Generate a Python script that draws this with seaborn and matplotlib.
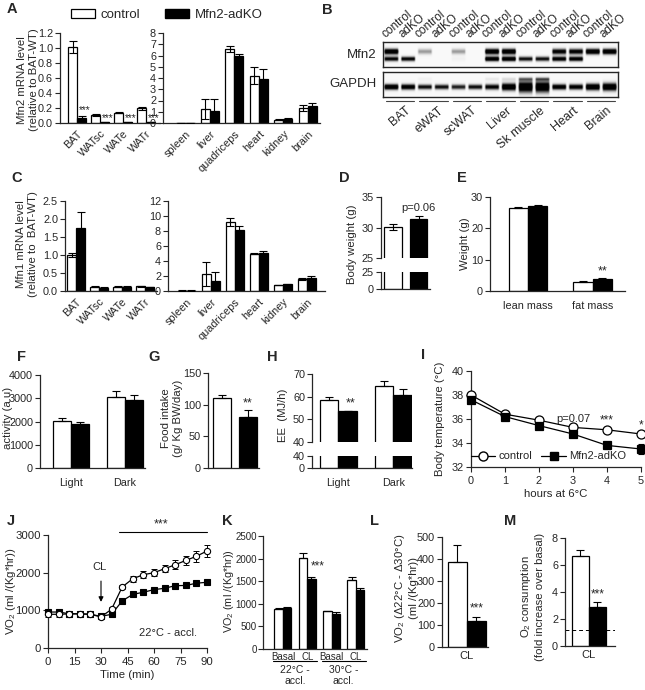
import numpy as np
import pandas as pd
import matplotlib
matplotlib.use("Agg")
import matplotlib.pyplot as plt
import matplotlib.transforms as mtrans
from matplotlib.patches import Patch
from matplotlib.lines import Line2D
from matplotlib.ticker import FormatStrFormatter
import seaborn as sns

# ---------------- data ----------------
groups = ["control", "Mfn2-adKO"]

fat_depots = ["BAT", "WATsc", "WATe", "WATr"]
tissues = ["spleen", "liver", "quadriceps", "heart", "kidney", "brain"]

# A: Mfn2 mRNA
a_fat_ctrl = [1.02, 0.11, 0.14, 0.20]
a_fat_ko = [0.07, 0.01, 0.01, 0.01]
a_fat_ctrl_err = [0.08, 0.01, 0.01, 0.02]
a_fat_ko_err = [0.02, 0.003, 0.003, 0.003]
a_tis_ctrl = [0.02, 1.25, 6.6, 4.2, 0.3, 1.35]
a_tis_ko = [0.02, 1.1, 6.0, 3.9, 0.4, 1.5]
a_tis_ctrl_err = [0.01, 0.9, 0.25, 0.75, 0.05, 0.25]
a_tis_ko_err = [0.01, 1.0, 0.15, 0.9, 0.05, 0.25]

# B: western blot (band intensity per lane)
blot_lanes = ["control", "adKO"] * 7
blot_groups = ["BAT", "eWAT", "scWAT", "Liver", "Sk muscle", "Heart", "Brain"]
mfn2_upper = [1.0, 0.0, 0.35, 0.0, 0.35, 0.0, 1.0, 1.0, 0.0, 0.0, 0.85, 0.85, 1.0, 1.0]
mfn2_lower = [0.8, 0.8, 0.0, 0.0, 0.05, 0.0, 1.0, 1.0, 0.75, 0.75, 0.9, 0.9, 0.0, 0.0]
gapdh_main = [1.0, 0.9, 0.75, 0.75, 0.7, 0.75, 0.8, 1.0, 1.0, 1.0, 0.9, 0.85, 1.0, 1.0]
gapdh_thick = [1.0, 1.0, 0.9, 0.9, 0.9, 0.9, 1.0, 1.3, 2.0, 2.0, 1.0, 1.0, 1.2, 1.4]
gapdh_faint = [0.0, 0.0, 0.05, 0.0, 0.0, 0.0, 0.1, 0.15, 0.4, 0.45, 0.0, 0.0, 0.0, 0.0]

# C: Mfn1 mRNA
c_fat_ctrl = [1.0, 0.12, 0.12, 0.13]
c_fat_ko = [1.75, 0.09, 0.12, 0.11]
c_fat_ctrl_err = [0.06, 0.02, 0.01, 0.01]
c_fat_ko_err = [0.45, 0.01, 0.01, 0.01]
c_tis_ctrl = [0.05, 2.3, 9.2, 5.0, 0.8, 1.65]
c_tis_ko = [0.05, 1.3, 8.2, 5.1, 0.9, 1.8]
c_tis_ctrl_err = [0.02, 1.6, 0.5, 0.1, 0.05, 0.15]
c_tis_ko_err = [0.02, 1.2, 0.5, 0.25, 0.05, 0.2]

# D: body weight
d_weight = [30.1, 31.4]
d_weight_err = [0.45, 0.5]

# E: body composition
e_cats = ["lean mass", "fat mass"]
e_ctrl = [26.5, 3.0]
e_ko = [27.0, 3.7]
e_ctrl_err = [0.4, 0.1]
e_ko_err = [0.5, 0.3]

# F: activity
phases = ["Light", "Dark"]
f_ctrl = [2010, 3070]
f_ko = [1880, 2930]
f_ctrl_err = [140, 230]
f_ko_err = [100, 190]

# G: food intake
g_food = [110, 80]
g_food_err = [6, 12]

# H: energy expenditure
h_ctrl = [58.7, 64.5]
h_ko = [53.6, 60.9]
h_ctrl_err = [1.3, 2.4]
h_ko_err = [0.2, 2.5]

# I: body temperature during cold exposure
i_hours = [0, 1, 2, 3, 4, 5]
i_ctrl = [38.0, 36.4, 35.9, 35.3, 35.1, 34.75]
i_ko = [37.6, 36.2, 35.45, 34.75, 33.8, 33.5]
i_ctrl_err = [0.1, 0.1, 0.1, 0.1, 0.1, 0.15]
i_ko_err = [0.15, 0.1, 0.1, 0.15, 0.3, 0.45]

# J: VO2 time course
j_time = [0, 6, 12, 18, 24, 30, 36, 42, 48, 54, 60, 66, 72, 78, 84, 90]
j_ctrl = [895, 895, 905, 905, 895, 825, 1030, 1620, 1840, 1945, 2000, 2105, 2210, 2325, 2435, 2575]
j_ko = [955, 955, 910, 910, 895, 840, 895, 1250, 1425, 1480, 1550, 1585, 1655, 1660, 1720, 1745]
j_ctrl_err = [60, 60, 40, 40, 40, 40, 60, 60, 80, 90, 100, 100, 120, 130, 140, 150]
j_ko_err = [40, 40, 30, 30, 30, 30, 30, 40, 40, 30, 30, 30, 30, 30, 30, 40]

# K: VO2 basal / CL at two acclimation temperatures
k_cats = ["Basal", "CL", "Basal ", "CL "]
k_ctrl = [895, 2020, 830, 1520]
k_ko = [915, 1545, 775, 1300]
k_ctrl_err = [20, 100, 20, 80]
k_ko_err = [20, 50, 40, 60]

# L, M: CL response
l_ctrl, l_ko = [385], [118]
l_ctrl_err, l_ko_err = [80], [20]
m_ctrl, m_ko = [6.65], [2.9]
m_ctrl_err, m_ko_err = [0.45], [0.37]
m_basal_line = 1.2

# ---------------- style ----------------
sns.set_style("ticks")
plt.rcParams["font.family"] = ["Liberation Sans", "DejaVu Sans"]
plt.rcParams["mathtext.fontset"] = "custom"
plt.rcParams["mathtext.rm"] = "Liberation Sans"
plt.rcParams["mathtext.it"] = "Liberation Sans:italic"
plt.rcParams["axes.linewidth"] = 0.9

pal = {"control": "white", "Mfn2-adKO": "black"}
TICK = 7.8
LAB = 8.2

W, H = 645, 690
fig = plt.figure(figsize=(W / 100, H / 100), dpi=100)


def add_ax(x0, y0, x1, y1):
    return fig.add_axes([x0 / W, 1 - y1 / H, (x1 - x0) / W, (y1 - y0) / H])


def ftext(x, y, s, **kw):
    fig.text(x / W, 1 - y / H, s, **kw)


def letter(x, y, s):
    ftext(x, y, s, fontsize=10.5, fontweight="bold", ha="left", va="top")


def ylab(x, y, s, fs=LAB):
    ftext(x, y, s, rotation=90, ha="center", va="center", fontsize=fs, linespacing=1.15)


def style(ax, xlim, ylim, yticks, xlabels=None, fmt=None):
    ax.set_xlim(*xlim)
    ax.set_ylim(*ylim)
    ax.set_yticks(yticks)
    if fmt:
        ax.yaxis.set_major_formatter(FormatStrFormatter(fmt))
    ax.set_xlabel("")
    ax.set_ylabel("")
    sns.despine(ax=ax)
    ax.tick_params(axis="y", length=3.5, width=0.8, pad=1.5, labelsize=TICK)
    ax.tick_params(axis="x", length=0, pad=4, labelsize=TICK)
    if xlabels is None:
        ax.set_xticklabels([])


def errs(ax, x, vals, err, both):
    lower = err if both else [0] * len(err)
    ax.errorbar(x, vals, yerr=[lower, err], fmt="none", ecolor="black",
                elinewidth=0.8, capsize=3, capthick=0.8, zorder=3)


def pair_bars(ax, cats, ctrl, ko, ctrl_err, ko_err, width, both=False):
    df = pd.DataFrame({"cat": list(cats) * 2,
                       "group": [groups[0]] * len(cats) + [groups[1]] * len(cats),
                       "value": list(ctrl) + list(ko)})
    sns.barplot(data=df, x="cat", y="value", hue="group", hue_order=groups,
                palette=pal, width=width, edgecolor="black", linewidth=0.9,
                errorbar=None, legend=False, ax=ax)
    pos = np.arange(len(cats))
    errs(ax, pos - width / 4, ctrl, ctrl_err, both)
    errs(ax, pos + width / 4, ko, ko_err, both)


def single_bars(ax, vals, err, width, both=False):
    df = pd.DataFrame({"group": groups, "value": vals})
    sns.barplot(data=df, x="group", y="value", hue="group", hue_order=groups,
                palette=pal, width=width, edgecolor="black", linewidth=0.9,
                errorbar=None, legend=False, ax=ax)
    errs(ax, np.arange(2), vals, err, both)


def stars(ax, x, y, s="***", fs=8.5):
    ax.text(x, y, s, ha="center", va="bottom", fontsize=fs)


# ---------------- A ----------------
letter(7, 2, "A")
ax = add_ax(60, 33, 160, 123)
pair_bars(ax, fat_depots, a_fat_ctrl, a_fat_ko, a_fat_ctrl_err, a_fat_ko_err, 0.78, both=True)
style(ax, (-0.74, 3.6), (0, 1.2), np.arange(0, 1.21, 0.2), xlabels=True, fmt="%.1f")
ax.set_xticklabels(fat_depots, rotation=45, ha="right", rotation_mode="anchor")
for i, y in enumerate([0.1, 0.0, 0.0, 0.0]):
    stars(ax, i + 0.33, y, fs=7.2)
ax = add_ax(163, 33, 320, 123)
pair_bars(ax, tissues, a_tis_ctrl, a_tis_ko, a_tis_ctrl_err, a_tis_ko_err, 0.74, both=True)
style(ax, (-0.92, 5.5), (0, 8), range(0, 9), xlabels=True)
ax.set_xticklabels(tissues, rotation=45, ha="right", rotation_mode="anchor")
ylab(28, 80, "Mfn2 mRNA level\n(relative to BAT-WT)")
fig.legend(handles=[Patch(facecolor="white", edgecolor="black", linewidth=0.9, label="control"),
                    Patch(facecolor="black", edgecolor="black", label="Mfn2-adKO")],
           loc="center left", bbox_to_anchor=(71 / W, 1 - 15 / H), ncol=2, frameon=False,
           fontsize=9.5, handlelength=1.8, handleheight=0.65, handletextpad=0.45,
           columnspacing=1.9, borderpad=0, borderaxespad=0)

# ---------------- B ----------------
letter(322, 3, "B")


def blot_image(bands, cols=24, rows=50):
    n = len(bands[0][0])
    img = np.full((rows, n * cols), 0.04)
    yy = np.linspace(0, 1, rows)[:, None]
    xx = np.linspace(0, 1, cols)[None, :]
    hprof = np.clip((0.48 - np.abs(xx - 0.5)) / 0.1, 0, 1)
    for amps, ypos, sig in bands:
        for i, a in enumerate(amps):
            s = sig[i] if hasattr(sig, "__len__") else sig
            img[:, i * cols:(i + 1) * cols] += a * np.exp(-((yy - ypos) / s) ** 2) * hprof
    return np.clip(img, 0, 1)


bx_m = add_ax(383, 42, 618, 67)
bx_m.imshow(blot_image([(mfn2_upper, 0.38, 0.12), (mfn2_lower, 0.68, 0.1)]),
            cmap="Greys", vmin=0, vmax=0.8, aspect="auto", extent=(0, 14, 1, 0),
            interpolation="bilinear")
bx_g = add_ax(383, 72, 618, 97)
bx_g.imshow(blot_image([(gapdh_main, 0.6, [0.12 * t for t in gapdh_thick]),
                        (gapdh_faint, 0.28, 0.07)]),
            cmap="Greys", vmin=0, vmax=0.8, aspect="auto", extent=(0, 14, 1, 0),
            interpolation="bilinear")
for bx in (bx_m, bx_g):
    bx.set_xticks([])
    bx.set_yticks([])
    for sp in bx.spines.values():
        sp.set_linewidth(1.0)
ftext(377, 55, "Mfn2", ha="right", va="center", fontsize=9.5)
ftext(377, 84, "GAPDH", ha="right", va="center", fontsize=9.5)
trm = mtrans.blended_transform_factory(bx_m.transData, bx_m.transAxes)
for i, lab in enumerate(blot_lanes):
    bx_m.text(i + 0.25, 1.08, lab, transform=trm, rotation=40, ha="left", va="bottom",
              rotation_mode="anchor", fontsize=8.5)
trg = mtrans.blended_transform_factory(bx_g.transData, bx_g.transAxes)
for g, lab in enumerate(blot_groups):
    bx_g.plot([2 * g + 0.15, 2 * g + 1.85], [-0.14, -0.14], color="#444444", lw=0.8,
              transform=trg, clip_on=False)
    bx_g.text(2 * g + 1.3, -0.3, lab, transform=trg, rotation=40, ha="right", va="top",
              rotation_mode="anchor", fontsize=9)

# ---------------- C ----------------
letter(11, 171, "C")
ax = add_ax(65, 201, 157, 291)
pair_bars(ax, fat_depots, c_fat_ctrl, c_fat_ko, c_fat_ctrl_err, c_fat_ko_err, 0.78, both=True)
style(ax, (-0.48, 3.52), (0, 2.5), np.arange(0, 2.51, 0.5), xlabels=True, fmt="%.1f")
ax.set_xticklabels(fat_depots, rotation=45, ha="right", rotation_mode="anchor")
ax = add_ax(168, 201, 325, 291)
pair_bars(ax, tissues, c_tis_ctrl, c_tis_ko, c_tis_ctrl_err, c_tis_ko_err, 0.74, both=True)
style(ax, (-0.78, 5.76), (0, 12), range(0, 13, 2), xlabels=True)
ax.set_xticklabels(tissues, rotation=45, ha="right", rotation_mode="anchor")
ylab(27, 244, "Mfn1 mRNA level\n(relative to  BAT-WT)")

# ---------------- D ----------------
letter(339, 171, "D")
ax = add_ax(381, 197, 430, 258)
single_bars(ax, d_weight, d_weight_err, 0.7, both=True)
style(ax, (-0.47, 1.45), (25, 35), [25, 30, 35])
ax.spines["bottom"].set_visible(False)
ax.text(1, 32.3, "p=0.06", ha="center", va="bottom", fontsize=8)
ax = add_ax(381, 272, 430, 289)
single_bars(ax, d_weight, d_weight_err, 0.7)
style(ax, (-0.47, 1.45), (0, 25), [0, 25])
ylab(352, 244, "Body weight (g)")

# ---------------- E ----------------
letter(457, 171, "E")
ax = add_ax(490, 197, 625, 291)
pair_bars(ax, e_cats, e_ctrl, e_ko, e_ctrl_err, e_ko_err, 0.6)
style(ax, (-0.59, 1.5), (0, 30), [0, 10, 20, 30], xlabels=True)
ax.tick_params(axis="x", pad=7)
stars(ax, 1.15, 4.4, "**", fs=9)
ylab(465, 244, "Weight (g)")

# ---------------- F ----------------
letter(17, 350, "F")
ax = add_ax(40, 375, 145, 468)
pair_bars(ax, phases, f_ctrl, f_ko, f_ctrl_err, f_ko_err, 0.67)
style(ax, (-0.57, 1.37), (0, 4000), range(0, 4001, 1000), xlabels=True)
ax.tick_params(axis="x", pad=7)
ylab(8, 418, "activity (a.u)")

# ---------------- G ----------------
letter(148, 350, "G")
ax = add_ax(208, 373, 259, 468)
single_bars(ax, g_food, g_food_err, 0.69)
style(ax, (-0.54, 1.42), (0, 150), [0, 50, 100, 150])
stars(ax, 1, 93, "**", fs=9)
ylab(172, 418, "Food intake\n(g/ Kg BW/day)")

# ---------------- H ----------------
letter(267, 350, "H")
ax = add_ax(312, 374, 412, 442)
pair_bars(ax, phases, h_ctrl, h_ko, h_ctrl_err, h_ko_err, 0.67)
style(ax, (-0.48, 1.34), (40, 70), [40, 50, 60, 70])
ax.spines["bottom"].set_visible(False)
stars(ax, 0.22, 54.5, "**", fs=9)
ax = add_ax(312, 456, 412, 468)
pair_bars(ax, phases, h_ctrl, h_ko, h_ctrl_err, h_ko_err, 0.67)
style(ax, (-0.48, 1.34), (0, 40), [0, 40], xlabels=True)
ax.tick_params(axis="x", pad=7)
ylab(283, 415, "EE  (MJ/h)")

# ---------------- I ----------------
letter(421, 348, "I")
ax = add_ax(471, 371, 641, 467)
for vals, err, mk, mfc in ((i_ctrl, i_ctrl_err, "o", "white"), (i_ko, i_ko_err, "s", "black")):
    ax.errorbar(i_hours, vals, yerr=err, fmt="none", ecolor="black", elinewidth=0.8,
                capsize=2.5, capthick=0.8, zorder=2, clip_on=False)
    sns.lineplot(x=i_hours, y=vals, color="black", linewidth=0.9, marker=mk,
                 markersize=6.5 if mk == "o" else 6, markerfacecolor=mfc,
                 markeredgecolor="black", markeredgewidth=0.9, ax=ax, zorder=4, clip_on=False)
ax.set_xlim(0, 5)
ax.set_ylim(32, 40)
ax.set_yticks(range(32, 41, 2))
ax.set_xticks(range(0, 6))
sns.despine(ax=ax)
ax.tick_params(length=3.5, width=0.8, pad=1.5, labelsize=TICK)
ax.tick_params(axis="x", pad=3)
ax.set_xlabel("hours at 6°C", fontsize=LAB, labelpad=2)
ax.text(3.0, 35.6, "p=0.07", ha="center", va="bottom", fontsize=8)
stars(ax, 4, 35.35)
stars(ax, 5, 35.0, "*")
ax.legend(handles=[Line2D([], [], color="black", lw=0.9, marker="o", ms=6.5, mfc="white", label="control"),
                   Line2D([], [], color="black", lw=0.9, marker="s", ms=6, mfc="black", label="Mfn2-adKO")],
          loc="center left", bbox_to_anchor=(0.0, 0.11), ncol=2, frameon=False, fontsize=8,
          handlelength=2.2, handletextpad=0.3, columnspacing=0.8, borderpad=0, borderaxespad=0)
ylab(440, 419, "Body temperature (°C)")

# ---------------- J ----------------
letter(7, 514, "J")
ax = add_ax(48, 535, 207, 648)
for vals, err, mk, mfc in ((j_ko, j_ko_err, "s", "black"), (j_ctrl, j_ctrl_err, "o", "white")):
    ax.errorbar(j_time, vals, yerr=err, fmt="none", ecolor="black", elinewidth=0.7,
                capsize=2, capthick=0.7, zorder=2, clip_on=False)
    sns.lineplot(x=j_time, y=vals, color="black", linewidth=0.9, marker=mk,
                 markersize=4.5, markerfacecolor=mfc, markeredgecolor="black",
                 markeredgewidth=0.8, ax=ax, zorder=4, clip_on=False)
ax.set_xlim(0, 90)
ax.set_ylim(0, 3000)
ax.set_xticks(range(0, 91, 15))
ax.set_yticks(range(0, 3001, 1000))
sns.despine(ax=ax)
ax.tick_params(length=3.5, width=0.8, pad=1.5, labelsize=TICK + 0.4)
ax.tick_params(axis="x", pad=3)
ax.set_xlabel("Time (min)", fontsize=LAB, labelpad=2)
ax.plot([40, 90], [3080, 3080], color="black", lw=0.8, clip_on=False)
stars(ax, 64, 3110, fs=9)
ax.annotate("", xy=(30, 1150), xytext=(30, 1850),
            arrowprops=dict(arrowstyle="-|>", color="black", lw=0.8, mutation_scale=7))
ax.text(29, 2150, "CL", ha="center", va="center", fontsize=8)
ax.text(68, 400, "22°C - accl.", ha="center", va="center", fontsize=8)
ylab(11, 591, "VO$_2$ (ml /(Kg*hr))")

# ---------------- K ----------------
letter(222, 514, "K")
ax = add_ax(263, 536, 367, 649)
pair_bars(ax, k_cats, k_ctrl, k_ko, k_ctrl_err, k_ko_err, 0.7)
style(ax, (-0.82, 3.46), (0, 2500), range(0, 2501, 500), xlabels=True)
ax.tick_params(axis="y", labelsize=7, pad=1)
ax.set_xticks(range(4))
ax.set_xticklabels(["Basal", "CL", "Basal", "CL"], fontsize=7)
ax.tick_params(axis="x", pad=2)
stars(ax, 1.45, 1700)
trk = mtrans.blended_transform_factory(ax.transData, ax.transAxes)
for g, lab in enumerate(["22°C -\naccl.", "30°C -\naccl."]):
    ax.plot([2 * g - 0.4, 2 * g + 1.4], [-0.11, -0.11], color="black", lw=0.8,
            transform=trk, clip_on=False)
    ax.text(2 * g + 0.5, -0.14, lab, transform=trk, ha="center", va="top", fontsize=7.5,
            linespacing=1.2)
ylab(229, 591, "VO$_2$ (ml /(Kg*hr))", fs=7.8)

# ---------------- L ----------------
letter(370, 514, "L")
ax = add_ax(442, 537, 488, 647)
pair_bars(ax, ["CL"], l_ctrl, l_ko, l_ctrl_err, l_ko_err, 0.8)
style(ax, (-0.52, 0.45), (0, 500), range(0, 501, 100), xlabels=True)
ax.tick_params(axis="x", labelsize=8, pad=3)
stars(ax, 0.22, 150)
ylab(406, 588, "VO$_2$ (Δ22°C - Δ30°C)\n(ml /(Kg*hr))")

# ---------------- M ----------------
letter(504, 514, "M")
ax = add_ax(565, 538, 615, 646)
pair_bars(ax, ["CL"], m_ctrl, m_ko, m_ctrl_err, m_ko_err, 0.8)
style(ax, (-0.56, 0.62), (0, 8), range(0, 9, 2), xlabels=True)
ax.tick_params(axis="x", labelsize=8, pad=3)
ax.axhline(m_basal_line, color="black", lw=0.7, ls=(0, (4, 3)), zorder=2.5)
stars(ax, 0.22, 3.35)
ylab(532, 597, "O$_2$ consumption\n(fold increase over basal)")

fig.savefig("out.png", dpi=100)
